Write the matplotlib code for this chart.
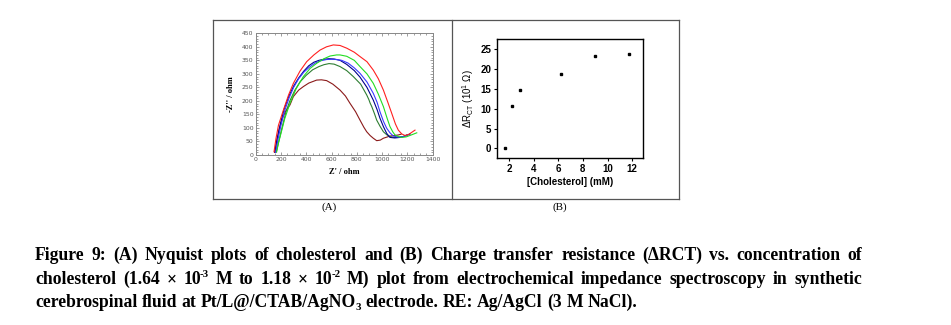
import numpy as np
import matplotlib
matplotlib.use('Agg')
import matplotlib.pyplot as plt
from matplotlib.lines import Line2D
from matplotlib.ticker import MultipleLocator, AutoMinorLocator

plt.rcParams['mathtext.fontset'] = 'custom'
plt.rcParams['mathtext.rm'] = 'Liberation Serif:bold'
plt.rcParams['mathtext.bf'] = 'Liberation Serif:bold'
plt.rcParams['mathtext.sf'] = 'Liberation Sans'

# dados - painel A (Nyquist)
red_z = [145, 160, 180, 219, 260, 298, 350, 403, 460, 509, 560, 614, 667, 720, 780, 825, 880, 930, 970, 1010, 1045, 1076, 1105, 1128, 1155, 1181, 1210, 1235, 1260]
red_y = [12, 60, 110, 166, 222, 265, 310, 345, 370, 388, 400, 407, 405, 395, 380, 364, 345, 314, 282, 240, 195, 154, 115, 92, 78, 72, 76, 84, 92]

green_z = [166, 180, 200, 230, 271, 320, 377, 430, 482, 540, 588, 640, 667, 720, 780, 825, 880, 930, 970, 1010, 1040, 1062, 1085, 1102, 1130, 1155, 1190, 1230, 1274]
green_y = [12, 45, 80, 135, 191, 245, 290, 320, 339, 356, 366, 370, 370, 365, 350, 327, 300, 265, 225, 179, 135, 105, 85, 74, 68, 65, 67, 74, 82]

blue_z = [158, 175, 200, 230, 265, 300, 340, 380, 425, 470, 510, 560, 600, 640, 680, 730, 780, 825, 880, 930, 960, 983, 1010, 1036, 1062, 1089, 1130, 1168, 1200, 1221]
blue_y = [10, 55, 110, 165, 212, 250, 282, 306, 325, 340, 348, 353, 354, 353, 350, 340, 322, 302, 270, 228, 195, 160, 125, 99, 82, 70, 66, 68, 73, 78]

navy_z = [152, 170, 195, 225, 260, 300, 340, 380, 420, 460, 500, 540, 580, 620, 667, 720, 780, 825, 880, 930, 960, 983, 1010, 1036, 1062, 1100, 1141, 1180, 1221]
navy_y = [10, 60, 115, 170, 215, 255, 285, 310, 330, 343, 350, 354, 356, 355, 350, 335, 312, 288, 250, 203, 168, 136, 105, 80, 65, 63, 65, 70, 78]

dgreen_z = [162, 180, 205, 240, 270, 310, 350, 400, 450, 500, 540, 580, 620, 667, 720, 772, 830, 878, 895, 905, 918, 940, 957, 985, 1010, 1036, 1062, 1095, 1128, 1165, 1194]
dgreen_y = [10, 45, 95, 160, 200, 240, 270, 295, 315, 327, 334, 338, 336, 327, 312, 290, 262, 222, 205, 192, 179, 152, 129, 105, 86, 75, 68, 65, 65, 68, 74]

maroon_z = [150, 165, 185, 210, 240, 271, 298, 340, 377, 420, 482, 520, 561, 610, 667, 710, 746, 790, 825, 855, 878, 905, 930, 957, 985, 1010, 1036, 1062, 1095, 1128, 1150]
maroon_y = [10, 50, 95, 135, 165, 185, 216, 240, 253, 266, 277, 278, 275, 262, 240, 218, 191, 160, 129, 103, 86, 72, 62, 53, 55, 62, 66, 70, 72, 74, 77]

curvas = [
    (maroon_z, maroon_y, '#8b1a1a'),
    (dgreen_z, dgreen_y, '#2e7d32'),
    (navy_z, navy_y, '#00008b'),
    (blue_z, blue_y, '#3a3aff'),
    (green_z, green_y, '#22dd22'),
    (red_z, red_y, '#ff2020'),
]

# dados - painel B
colesterol = [1.64, 2.25, 2.9, 6.2, 9.0, 11.7]
delta_rct = [0.0, 10.7, 14.6, 18.8, 23.2, 23.9]

# legenda: cada palavra e uma lista de partes (texto, tipo) onde tipo = n normal, s sobrescrito, b subscrito
linhas_legenda = [
    ['Figure', '9:', '(A)', 'Nyquist', 'plots', 'of', 'cholesterol', 'and', '(B)', 'Charge', 'transfer',
     'resistance', '(ΔRCT)', 'vs.', 'concentration', 'of'],
    ['cholesterol', '(1.64', '×', [('10', 'n'), ('-3', 's')], 'M', 'to', '1.18', '×', [('10', 'n'), ('-2', 's')],
     'M)', 'plot', 'from', 'electrochemical', 'impedance', 'spectroscopy', 'in', 'synthetic'],
    ['cerebrospinal', 'fluid', 'at', [('Pt/L@/CTAB/AgNO', 'n'), ('3', 'b')], 'electrode.', 'RE:', 'Ag/AgCl',
     '(3', 'M', 'NaCl).'],
]

W, H = 951, 325
fig = plt.figure(figsize=(W / 100, H / 100), dpi=100)

# moldura dos paineis
def linha(x0, y0, x1, y1):
    fig.add_artist(Line2D([x0 / W, x1 / W], [1 - y0 / H, 1 - y1 / H], color='#555555', lw=0.9,
                          transform=fig.transFigure))

linha(213, 20, 679, 20)
linha(213, 199, 679, 199)
linha(213, 20, 213, 199)
linha(452, 20, 452, 199)
linha(679, 20, 679, 199)

# painel A
ax1 = fig.add_axes([255.7 / W, 1 - 155 / H, 177 / W, 121.7 / H])
for z, y, cor in curvas:
    ax1.plot(z, y, color=cor, lw=0.8)
ax1.set_xlim(0, 1400)
ax1.set_ylim(0, 450)
ax1.xaxis.set_major_locator(MultipleLocator(200))
ax1.yaxis.set_major_locator(MultipleLocator(50))
ax1.xaxis.set_minor_locator(AutoMinorLocator(4))
ax1.yaxis.set_minor_locator(AutoMinorLocator(5))
ax1.tick_params(which='both', direction='in', top=True, right=True, colors='#777777',
                labelsize=4.4, labelcolor='#555555', width=0.5, pad=1.5)
ax1.tick_params(which='major', length=2.5)
ax1.tick_params(which='minor', length=1.2)
for s in ax1.spines.values():
    s.set_color('#888888')
    s.set_linewidth(0.7)
ax1.set_xlabel("Z' / ohm", fontsize=6, fontweight='bold', family='Liberation Serif', labelpad=4)
ax1.set_ylabel("-Z'' / ohm", fontsize=6, fontweight='bold', family='Liberation Serif', labelpad=5)

# painel B
ax2 = fig.add_axes([496.7 / W, 1 - 158.3 / H, 146.6 / W, 119 / H])
ax2.plot(colesterol, delta_rct, 's', color='black', markersize=1.7)
ax2.set_xlim(1.0, 12.9)
ax2.set_ylim(-2.5, 27.5)
ax2.xaxis.set_major_locator(MultipleLocator(2))
ax2.yaxis.set_major_locator(MultipleLocator(5))
ax2.tick_params(direction='out', length=2.5, width=0.8, labelsize=7, pad=1.5)
for lab in ax2.get_xticklabels() + ax2.get_yticklabels():
    lab.set_family('Liberation Sans')
    lab.set_fontweight('bold')
for s in ax2.spines.values():
    s.set_linewidth(1.0)
ax2.set_xlabel('[Cholesterol] (mM)', fontsize=7, family='Liberation Sans', fontweight='bold', labelpad=2)
ax2.set_ylabel(r'ΔR$_{\mathsf{CT}}$ (10$^{\mathsf{1}}$ Ω)', fontsize=7, family='Liberation Sans', labelpad=3)

fig.text(329 / W, 1 - 207 / H, '(A)', fontsize=8, family='Liberation Serif', ha='center', va='center')
fig.text(560 / W, 1 - 207 / H, '(B)', fontsize=8, family='Liberation Serif', ha='center', va='center')

# legenda justificada
fig.canvas.draw()
r = fig.canvas.get_renderer()
x_ini, x_fim = 35, 862
bases = [260, 284, 307]
tam = 12.7
for i, palavras in enumerate(linhas_legenda):
    grupos = []
    for p in palavras:
        partes = [(p, 'n')] if isinstance(p, str) else p
        itens = []
        for txt, tipo in partes:
            fs = tam if tipo == 'n' else tam * 0.62
            t = fig.text(0, 0, txt, fontsize=fs, fontweight='bold', family='Liberation Serif',
                         transform=None, va='baseline')
            w = t.get_window_extent(r).width
            if tipo != 'n':
                w -= 1.5
            itens.append((t, tipo, w))
        grupos.append(itens)
    larguras = [sum(w for _, _, w in g) for g in grupos]
    if i < len(linhas_legenda) - 1:
        gap = (x_fim - x_ini - sum(larguras)) / (len(grupos) - 1)
    else:
        gap = 4.5
    x = x_ini
    for g, wg in zip(grupos, larguras):
        xx = x
        for t, tipo, w in g:
            dy = {'n': 0, 's': 7, 'b': -3}[tipo]
            if tipo != 'n':
                xx -= 1
            t.set_position((xx, H - bases[i] + dy))
            xx += w + (1 if tipo != 'n' else 0)
        x += wg + gap

fig.savefig('out.png', dpi=100)
